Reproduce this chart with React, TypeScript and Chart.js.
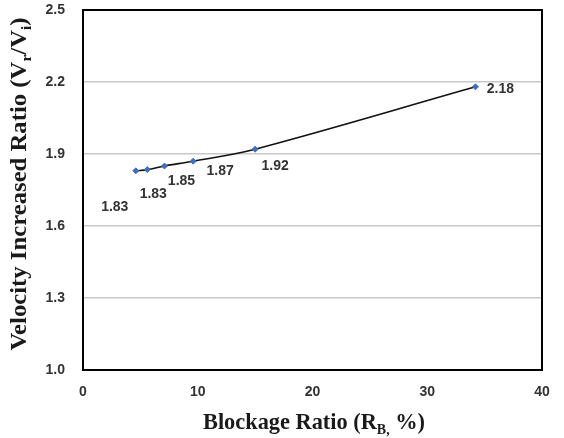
import React, { useEffect, useRef } from "react";
import { Chart, registerables } from "chart.js";

Chart.register(...registerables);

const blockageRatio = [4.6, 5.6, 7.1, 9.6, 15.0, 34.2];
const velocityRatio = [1.83, 1.835, 1.85, 1.87, 1.92, 2.18];
const pointLabels = ["1.83", "1.83", "1.85", "1.87", "1.92", "2.18"];
const yTicks = [1.0, 1.3, 1.6, 1.9, 2.2, 2.5];
const xTicks = [0, 10, 20, 30, 40];

// label offsets (px) relative to each point — styling only
const labelOffsets: [number, number][] = [
  [-21, 36],
  [6, 25],
  [17, 15],
  [27, 10],
  [20, 17],
  [25, 2],
];

const TITLE_FONT = 'bold 24px "Liberation Serif", "Times New Roman", serif';
const SUB_FONT = 'bold 15px "Liberation Serif", "Times New Roman", serif';
const TICK_FONT_FAMILY = '"Liberation Sans", Arial, sans-serif';

type Seg = { t: string; sub?: boolean };

function drawSegs(
  ctx: CanvasRenderingContext2D,
  segs: Seg[],
  cx: number,
  cy: number,
  targetWidth: number
) {
  let total = 0;
  for (const s of segs) {
    ctx.font = s.sub ? SUB_FONT : TITLE_FONT;
    total += ctx.measureText(s.t).width;
  }
  const k = targetWidth / total;
  ctx.save();
  ctx.translate(cx, cy);
  ctx.scale(k, 1);
  let x = -total / 2;
  ctx.textBaseline = "alphabetic";
  ctx.textAlign = "left";
  for (const s of segs) {
    ctx.font = s.sub ? SUB_FONT : TITLE_FONT;
    ctx.fillText(s.t, x, s.sub ? 5 : 0);
    x += ctx.measureText(s.t).width;
  }
  ctx.restore();
}

const overlayPlugin = {
  id: "overlay",
  afterDraw(chart: any) {
    const ctx: CanvasRenderingContext2D = chart.ctx;
    const { left, right, top, bottom } = chart.chartArea;
    const xs = chart.scales.x;
    const ys = chart.scales.y;
    ctx.save();
    // frame
    ctx.strokeStyle = "#000";
    ctx.lineWidth = 2;
    ctx.strokeRect(left, top, right - left, bottom - top);

    // point labels
    ctx.fillStyle = "#333333";
    ctx.font = `bold 14px ${TICK_FONT_FAMILY}`;
    ctx.textAlign = "center";
    ctx.textBaseline = "middle";
    blockageRatio.forEach((bx, i) => {
      const px = xs.getPixelForValue(bx) + labelOffsets[i][0];
      const py = ys.getPixelForValue(velocityRatio[i]) + labelOffsets[i][1];
      ctx.fillText(pointLabels[i], px, py);
    });

    // axis titles
    ctx.fillStyle = "#1a1a1a";
    drawSegs(
      ctx,
      [{ t: "Blockage Ratio (R" }, { t: "B,", sub: true }, { t: " %)" }],
      314,
      429,
      222
    );
    ctx.save();
    ctx.translate(26, 184);
    ctx.rotate(-Math.PI / 2);
    drawSegs(
      ctx,
      [
        { t: "Velocity Increased Ratio (V" },
        { t: "r", sub: true },
        { t: "/V" },
        { t: "i", sub: true },
        { t: ")" },
      ],
      0,
      0,
      333
    );
    ctx.restore();
    ctx.restore();
  },
};

export default function App() {
  const ref = useRef<HTMLCanvasElement | null>(null);
  useEffect(() => {
    if (!ref.current) return;
    const chart = new Chart(ref.current, {
      type: "line",
      data: {
        datasets: [
          {
            data: blockageRatio.map((x, i) => ({ x, y: velocityRatio[i] })),
            borderColor: "#111111",
            borderWidth: 1.6,
            tension: 0.35,
            pointStyle: "rectRot",
            pointRadius: 3,
            pointBackgroundColor: "#3f6fb8",
            pointBorderColor: "#3f6fb8",
            pointBorderWidth: 1,
          },
        ],
      },
      options: {
        responsive: false,
        devicePixelRatio: 1,
        animation: false,
        layout: { padding: { top: 10, right: 22, left: 0, bottom: 0 } },
        plugins: { legend: { display: false }, tooltip: { enabled: false } },
        scales: {
          x: {
            type: "linear",
            min: 0,
            max: 40,
            afterBuildTicks: (s: any) => {
              s.ticks = xTicks.map((v) => ({ value: v }));
            },
            afterFit: (s: any) => {
              s.height = 68;
              s.paddingLeft = 0;
              s.paddingRight = 0;
            },
            grid: { display: false, drawTicks: false },
            border: { display: false },
            ticks: {
              padding: 14,
              color: "#333333",
              font: { family: TICK_FONT_FAMILY, size: 14, weight: "bold" },
              maxRotation: 0,
            },
          },
          y: {
            type: "linear",
            min: 1.0,
            max: 2.5,
            afterBuildTicks: (s: any) => {
              s.ticks = yTicks.map((v) => ({ value: v }));
            },
            afterFit: (s: any) => {
              s.width = 83;
              s.paddingTop = 0;
              s.paddingBottom = 0;
            },
            grid: { color: "#c8c8c8", lineWidth: 1.5, drawTicks: false },
            border: { display: false },
            ticks: {
              padding: 18,
              color: "#333333",
              font: { family: TICK_FONT_FAMILY, size: 14, weight: "bold" },
              callback: (v: any) => Number(v).toFixed(1),
            },
          },
        },
      },
      plugins: [overlayPlugin],
    } as any);
    return () => chart.destroy();
  }, []);
  return (
    <div style={{ position: "fixed", left: 0, top: 0, width: 564, height: 438, background: "#fff" }}>
      <canvas ref={ref} width={564} height={438} />
    </div>
  );
}
